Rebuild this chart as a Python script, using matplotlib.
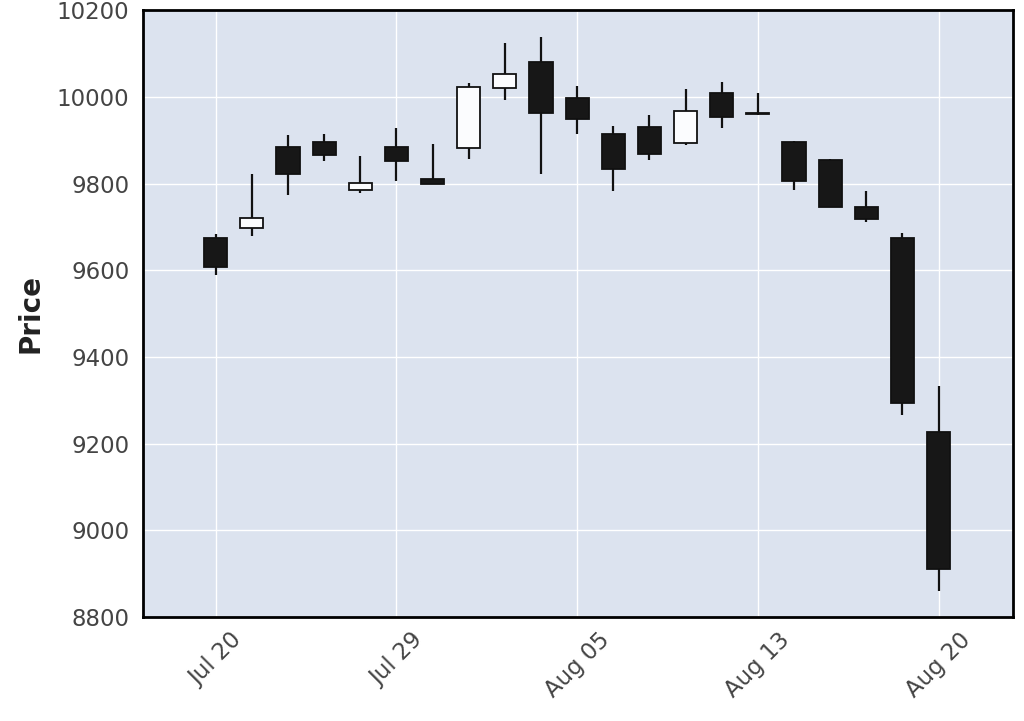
import matplotlib
matplotlib.use("Agg")

import matplotlib.pyplot as plt
from matplotlib.patches import Rectangle

# ---- Data ----
dates = ["Jul 20", "", "", "", "", "Jul 29", "", "", "", "", "Aug 05",
         "", "", "", "", "Aug 13", "", "", "", "", "Aug 20"]
opens = [9675, 9697, 9885, 9896, 9784, 9885, 9811, 9883, 10020, 10081, 9998,
         9915, 9931, 9894, 10009, 9963, 9896, 9854, 9746, 9675, 9228]
highs = [9684, 9821, 9912, 9915, 9863, 9929, 9891, 10031, 10125, 10139, 10025,
         9932, 9958, 10017, 10035, 10008, 9898, 9856, 9782, 9686, 9333]
lows = [9590, 9680, 9774, 9851, 9778, 9807, 9799, 9856, 9993, 9821, 9915,
        9782, 9855, 9888, 9929, 9958, 9786, 9746, 9711, 9267, 8861]
closes = [9607, 9721, 9823, 9865, 9802, 9851, 9799, 10023, 10052, 9963, 9950,
          9833, 9869, 9968, 9954, 9961, 9807, 9746, 9719, 9293, 8911]

UP_COLOR = "#fbfcfe"
DOWN_COLOR = "#171717"
BG = "#dce3ef"

fig = plt.figure(figsize=(10.24, 7.21), dpi=100)
ax = fig.add_axes([0.140, 0.144, 0.849, 0.842])
ax.set_facecolor(BG)

width = 0.64
for i, (o, h, l, c) in enumerate(zip(opens, highs, lows, closes)):
    face = UP_COLOR if c > o else DOWN_COLOR
    ax.vlines(i, l, h, color="#111111", linewidth=1.6, zorder=2)
    body_lo = min(o, c)
    body_h = max(abs(c - o), 0.5)
    ax.add_patch(Rectangle((i - width / 2, body_lo), width, body_h,
                           facecolor=face, edgecolor="#111111",
                           linewidth=1.3, zorder=3))

ax.set_xlim(-2, 22.05)
ax.set_ylim(8800, 10200)
ax.set_yticks(range(8800, 10201, 200))

tick_pos = [i for i, d in enumerate(dates) if d]
ax.set_xticks(tick_pos)
ax.set_xticklabels([dates[i] for i in tick_pos], rotation=45,
                   ha="center", va="top")

ax.grid(True, color="white", linewidth=1.0)
ax.set_axisbelow(True)
ax.tick_params(length=0, labelsize=16.5, labelcolor="#444444", pad=10)
ax.tick_params(axis="x", pad=8)

for s in ax.spines.values():
    s.set_linewidth(2)
    s.set_color("black")

ax.set_ylabel("Price", fontsize=20, fontweight="bold", color="#222222",
              labelpad=9)

fig.savefig("out.png", dpi=100)
plt.close(fig)
